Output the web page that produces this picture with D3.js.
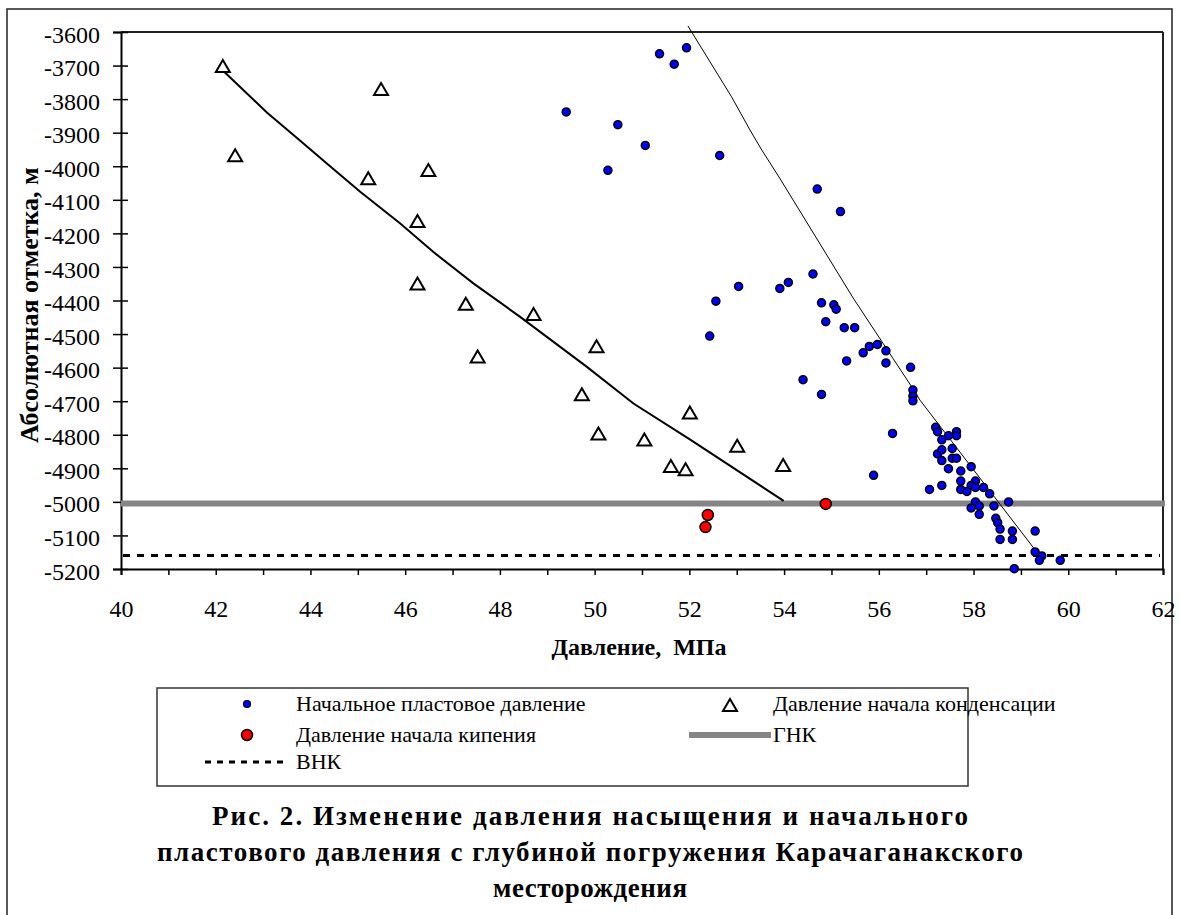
<!DOCTYPE html>
<html>
<head>
<meta charset="utf-8">
<script src="https://cdn.jsdelivr.net/npm/d3@7"></script>
<style>
  html, body { margin: 0; padding: 0; background: #fff; }
  svg { display: block; }
  text { font-family: "Liberation Serif", "Times New Roman", serif; fill: #000; }
</style>
</head>
<body>
<svg id="chart" width="1180" height="915"></svg>
<script>
// Начальное пластовое давление: давление (МПа) и абсолютная отметка (м)
const initP = [51.37, 51.68, 51.94, 49.40, 50.49, 51.07, 50.28, 52.64, 54.70, 55.19,
  54.61, 53.04, 53.91, 54.09, 52.56, 54.79, 55.05, 55.10, 54.88, 55.27,
  55.49, 52.43, 55.97, 55.80, 55.67, 56.15, 55.32, 56.15, 56.67, 54.40,
  54.79, 56.72, 56.72, 56.72, 56.29, 55.89, 57.20, 57.24, 57.33, 57.47,
  57.64, 57.64, 57.24, 57.33, 57.33, 57.55, 57.55, 57.64, 57.47, 57.73,
  57.95, 57.73, 58.04, 57.95, 57.07, 57.33, 57.73, 57.86, 58.04, 58.21,
  58.34, 58.04, 58.12, 57.95, 58.12, 58.43, 58.74, 58.47, 58.51, 58.56,
  58.56, 58.82, 58.82, 59.30, 59.30, 59.44, 59.39, 59.83, 58.86];
const initZ = [-3665, -3696, -3647, -3838, -3876, -3938, -4012, -3968, -4068, -4135,
  -4321, -4358, -4364, -4346, -4402, -4407, -4413, -4426, -4463, -4481,
  -4481, -4506, -4531, -4537, -4556, -4550, -4580, -4586, -4599, -4636,
  -4680, -4667, -4685, -4699, -4796, -4921, -4778, -4791, -4815, -4803,
  -4791, -4803, -4857, -4845, -4877, -4841, -4870, -4870, -4901, -4908,
  -4895, -4938, -4938, -4951, -4963, -4951, -4963, -4969, -4957, -4957,
  -4976, -5000, -5012, -5018, -5037, -5012, -5000, -5049, -5062, -5081,
  -5112, -5087, -5112, -5087, -5149, -5161, -5174, -5174, -5199];

// Давление начала конденсации
const condP = [42.15, 42.41, 45.49, 45.22, 46.49, 46.26, 46.26, 47.28, 48.71, 47.53,
  50.04, 49.73, 50.08, 51.05, 52.01, 51.61, 51.92, 53.01, 53.98];
const condZ = [-3701, -3967, -3770, -4036, -4011, -4163, -4349, -4410, -4440, -4567,
  -4536, -4679, -4796, -4814, -4734, -4893, -4903, -4833, -4890];

// Давление начала кипения
const boilP = [52.39, 52.34, 54.88];
const boilZ = [-5039, -5075, -5006];

// Линия тренда давления начала конденсации
const condTrendP = [42.15, 42.51, 43.08, 43.71, 44.34, 45.05, 45.89, 46.59, 47.44, 48.42,
  49.83, 50.82, 52.01, 53.99];
const condTrendZ = [-3715, -3763, -3840, -3915, -3991, -4076, -4170, -4255, -4349, -4448,
  -4597, -4707, -4814, -4997];

// Линия тренда начального пластового давления
const initTrendP = [51.97, 52.89, 53.28, 53.53, 53.91, 55.46, 55.53, 56.67, 56.87, 59.30, 59.45];
const initTrendZ = [-3582, -3793, -3892, -3952, -4036, -4393, -4408, -4652, -4697, -5143, -5165];

// Контакты: ГНК и ВНК
const gnkZ = -5005;
const vnkZ = -5160;

// Оси
const xDomain = [40, 62];
const yDomain = [-3600, -5200];
const xTicks = d3.range(40, 63, 1);
const yTicks = d3.range(-3600, -5201, -100);

const legendItems = ["Начальное пластовое давление", "Давление начала конденсации",
  "Давление начала кипения", "ГНК", "ВНК"];
const titleLines = ["Рис. 2. Изменение давления насыщения и начального",
  "пластового давления с глубиной погружения Карачаганакского",
  "месторождения"];

const svg = d3.select("#chart");
const L = 121, R = 1163, T = 32, B = 569;
const x = d3.scaleLinear().domain(xDomain).range([L, R]);
const y = d3.scaleLinear().domain(yDomain).range([T, B]);

// Внешняя рамка
svg.append("rect").attr("x", 7).attr("y", 9).attr("width", 1165).attr("height", 930)
  .attr("fill", "none").attr("stroke", "#222").attr("stroke-width", 1.5);

// Рамка области построения (верх и справа)
svg.append("line").attr("x1", L).attr("x2", R).attr("y1", T).attr("y2", T)
  .attr("stroke", "#222").attr("stroke-width", 2);
svg.append("line").attr("x1", R).attr("x2", R).attr("y1", T).attr("y2", B)
  .attr("stroke", "#222").attr("stroke-width", 2);

// Ось X
const xAxis = d3.axisBottom(x).tickValues(xTicks).tickSize(6).tickPadding(25)
  .tickFormat(d => d % 2 === 0 ? String(d) : "");
const gx = svg.append("g").attr("transform", `translate(0,${B})`).call(xAxis);
gx.select(".domain").attr("stroke", "#000").attr("stroke-width", 2);
gx.selectAll(".tick line").attr("stroke", "#000").attr("stroke-width", 1.5);
gx.selectAll(".tick text").attr("font-size", 24).attr("fill", "#000");

// Ось Y (засечки пересекают ось)
const yAxis = d3.axisLeft(y).tickValues(yTicks).tickSize(8).tickPadding(13)
  .tickFormat(d => String(d));
const gy = svg.append("g").attr("transform", `translate(${L},0)`).call(yAxis);
gy.select(".domain").attr("stroke", "#000").attr("stroke-width", 2);
gy.selectAll(".tick line").attr("x1", 7).attr("stroke", "#000").attr("stroke-width", 1.5);
gy.selectAll(".tick text").attr("font-size", 24).attr("fill", "#000").attr("dy", "0.42em");

// Подписи осей
svg.append("text").attr("x", 639).attr("y", 655).attr("text-anchor", "middle")
  .attr("font-size", 24).attr("font-weight", "bold").style("white-space", "pre")
  .text("Давление,  МПа");

// Подпись оси Y обрезана сверху областью подписи
svg.append("clipPath").attr("id", "ylabClip").append("rect")
  .attr("x", 0).attr("y", 165).attr("width", 70).attr("height", 400);
svg.append("g").attr("clip-path", "url(#ylabClip)")
  .append("text")
  .attr("transform", "translate(38,443) rotate(-90)")
  .attr("text-anchor", "start").attr("font-size", 26).attr("font-weight", "bold")
  .text("Абсолютная отметка, м");

const line = d3.line().x(d => x(d[0])).y(d => y(d[1]));

// ГНК и ВНК
svg.append("line").attr("x1", x(xDomain[0])).attr("x2", x(xDomain[1]) + 2)
  .attr("y1", y(gnkZ)).attr("y2", y(gnkZ))
  .attr("stroke", "#858585").attr("stroke-width", 6);
svg.append("line").attr("x1", x(xDomain[0]) + 2).attr("x2", x(xDomain[1]) - 3)
  .attr("y1", y(vnkZ)).attr("y2", y(vnkZ))
  .attr("stroke", "#000").attr("stroke-width", 3).attr("stroke-dasharray", "7,7");

// Линии тренда
svg.append("path").datum(d3.zip(condTrendP, condTrendZ)).attr("d", line)
  .attr("fill", "none").attr("stroke", "#000").attr("stroke-width", 2);
svg.append("path").datum(d3.zip(initTrendP, initTrendZ)).attr("d", line)
  .attr("fill", "none").attr("stroke", "#000").attr("stroke-width", 1);

// Точки: давление начала конденсации (треугольники)
const triPath = "M0,-6L7,6L-7,6Z";
svg.append("g").selectAll("path").data(d3.zip(condP, condZ)).join("path")
  .attr("d", triPath)
  .attr("transform", d => `translate(${x(d[0])},${y(d[1])})`)
  .attr("fill", "#fff").attr("stroke", "#000").attr("stroke-width", 2);

// Точки: начальное пластовое давление
svg.append("g").selectAll("circle").data(d3.zip(initP, initZ)).join("circle")
  .attr("cx", d => x(d[0])).attr("cy", d => y(d[1])).attr("r", 4)
  .attr("fill", "#0000ff").attr("stroke", "#000").attr("stroke-width", 1.5);

// Точки: давление начала кипения
svg.append("g").selectAll("circle").data(d3.zip(boilP, boilZ)).join("circle")
  .attr("cx", d => x(d[0])).attr("cy", d => y(d[1])).attr("r", 5.5)
  .attr("fill", "#ff0000").attr("stroke", "#000").attr("stroke-width", 1.5);

// Легенда
const lg = svg.append("g");
lg.append("rect").attr("x", 157).attr("y", 688).attr("width", 811).attr("height", 98)
  .attr("fill", "#fff").attr("stroke", "#333").attr("stroke-width", 1.5);
const lt = (tx, ty, s) => lg.append("text").attr("x", tx).attr("y", ty)
  .attr("font-size", 22).text(s);
lg.append("circle").attr("cx", 247).attr("cy", 704).attr("r", 3.5)
  .attr("fill", "#0000ff").attr("stroke", "#000").attr("stroke-width", 1.2);
lt(296, 711, legendItems[0]);
lg.append("path").attr("d", triPath).attr("transform", "translate(730,705)")
  .attr("fill", "#fff").attr("stroke", "#000").attr("stroke-width", 2);
lt(773, 711, legendItems[1]);
lg.append("circle").attr("cx", 247).attr("cy", 735).attr("r", 5.5)
  .attr("fill", "#ff0000").attr("stroke", "#000").attr("stroke-width", 1.5);
lt(296, 742, legendItems[2]);
lg.append("line").attr("x1", 689).attr("x2", 771).attr("y1", 735).attr("y2", 735)
  .attr("stroke", "#858585").attr("stroke-width", 6);
lt(773, 742, legendItems[3]);
lg.append("line").attr("x1", 205).attr("x2", 285).attr("y1", 762).attr("y2", 762)
  .attr("stroke", "#000").attr("stroke-width", 3).attr("stroke-dasharray", "6,6");
lt(296, 769, legendItems[4]);

// Заголовок рисунка
const titleWidths = [756, 866, 194];
const titleY = [825, 861, 897];
svg.append("g").selectAll("text").data(titleLines).join("text")
  .attr("x", 590).attr("y", (d, i) => titleY[i]).attr("text-anchor", "middle")
  .attr("font-size", 27).attr("font-weight", "bold")
  .attr("textLength", (d, i) => titleWidths[i]).attr("lengthAdjust", "spacing")
  .text(d => d);
</script>
</body>
</html>
